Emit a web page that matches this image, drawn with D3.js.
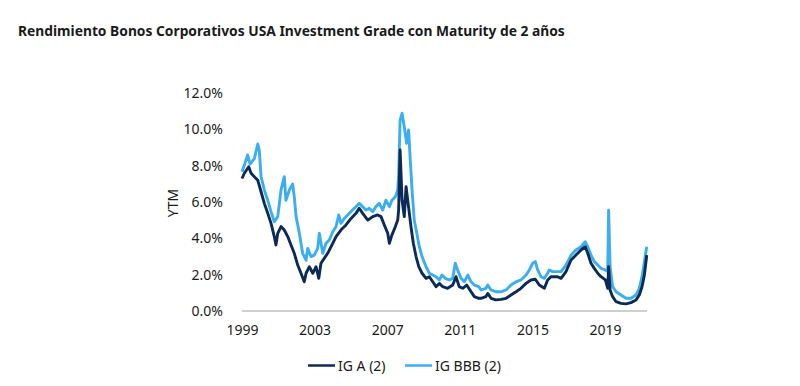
<!DOCTYPE html>
<html>
<head>
<meta charset="utf-8">
<script src="https://cdn.jsdelivr.net/npm/d3@7"></script>
<style>
  body { margin: 0; background: #fff; }
  text { font-family: "Noto Sans", "Open Sans", sans-serif; fill: #1a1a1a; }
</style>
</head>
<body>
<div id="chart"></div>
<script>
// Values (decimal year, yield in %).
const yearsA = [
  1999.00, 1999.13, 1999.37, 1999.50, 1999.68, 1999.87, 2000.05, 2000.23, 2000.42, 2000.60,
  2000.78, 2000.87, 2000.97, 2001.15, 2001.33, 2001.52, 2001.70, 2001.88, 2002.07, 2002.25,
  2002.43, 2002.53, 2002.71, 2002.90, 2003.08, 2003.23, 2003.35, 2003.53, 2003.72, 2004.00,
  2004.18, 2004.45, 2004.73, 2005.01, 2005.28, 2005.46, 2005.65, 2005.93, 2006.20, 2006.48,
  2006.66, 2006.84, 2007.03, 2007.12, 2007.26, 2007.45, 2007.58, 2007.63, 2007.71, 2007.82,
  2007.94, 2008.04, 2008.13, 2008.22, 2008.31, 2008.44, 2008.59, 2008.74, 2008.92, 2009.14,
  2009.32, 2009.51, 2009.69, 2009.87, 2010.06, 2010.33, 2010.61, 2010.79, 2010.97, 2011.16,
  2011.38, 2011.56, 2011.80, 2012.04, 2012.17, 2012.44, 2012.54, 2012.72, 2012.99, 2013.27,
  2013.55, 2013.82, 2014.10, 2014.37, 2014.65, 2014.92, 2015.16, 2015.38, 2015.66, 2015.84,
  2016.02, 2016.39, 2016.58, 2016.85, 2017.13, 2017.40, 2017.68, 2017.91, 2018.05, 2018.23,
  2018.41, 2018.60, 2018.78, 2019.02, 2019.15, 2019.20, 2019.28, 2019.42, 2019.61, 2019.88,
  2020.16, 2020.43, 2020.71, 2020.89, 2021.04, 2021.17, 2021.30
];
const igA = [
  7.30, 7.59, 7.95, 7.59, 7.40, 7.20, 6.57, 5.93, 5.38, 4.83,
  4.10, 3.64, 4.28, 4.65, 4.46, 4.10, 3.64, 3.18, 2.53, 2.08,
  1.61, 2.08, 2.44, 2.08, 2.44, 1.80, 2.63, 2.90, 3.18, 3.73,
  4.10, 4.46, 4.74, 5.10, 5.38, 5.66, 5.38, 5.01, 5.20, 5.29,
  5.20, 4.74, 4.28, 3.73, 4.19, 4.65, 5.01, 5.56, 8.87, 6.10,
  5.20, 6.85, 6.10, 5.38, 4.64, 3.73, 3.00, 2.44, 2.08, 1.80,
  1.89, 1.61, 1.34, 1.52, 1.34, 1.25, 1.43, 1.89, 1.34, 1.25,
  1.43, 1.16, 0.79, 0.70, 0.70, 0.79, 0.97, 0.70, 0.61, 0.64,
  0.70, 0.88, 1.06, 1.25, 1.52, 1.71, 1.75, 1.43, 1.25, 1.71,
  1.89, 1.89, 1.80, 2.17, 2.81, 3.08, 3.36, 3.54, 3.18, 2.63,
  2.35, 2.08, 1.89, 1.71, 1.25, 2.44, 1.16, 0.79, 0.51, 0.42,
  0.39, 0.46, 0.61, 0.88, 1.34, 1.98, 3.08
];

const yearsBBB = [
  1999.00, 1999.13, 1999.31, 1999.44, 1999.68, 1999.87, 1999.95, 2000.05, 2000.23, 2000.42,
  2000.60, 2000.78, 2000.97, 2001.15, 2001.33, 2001.42, 2001.61, 2001.79, 2001.88, 2001.98,
  2002.16, 2002.34, 2002.53, 2002.62, 2002.80, 2002.98, 2003.17, 2003.26, 2003.45, 2003.63,
  2003.81, 2004.00, 2004.18, 2004.33, 2004.45, 2004.64, 2004.91, 2005.19, 2005.46, 2005.65,
  2005.83, 2006.01, 2006.20, 2006.38, 2006.56, 2006.75, 2006.93, 2007.12, 2007.26, 2007.45,
  2007.58, 2007.63, 2007.71, 2007.82, 2007.94, 2008.07, 2008.18, 2008.26, 2008.37, 2008.49,
  2008.63, 2008.77, 2008.92, 2009.14, 2009.32, 2009.51, 2009.69, 2009.87, 2010.02, 2010.20,
  2010.42, 2010.61, 2010.75, 2010.88, 2011.07, 2011.25, 2011.44, 2011.62, 2011.80, 2012.04,
  2012.17, 2012.44, 2012.54, 2012.72, 2012.99, 2013.27, 2013.55, 2013.82, 2014.10, 2014.37,
  2014.65, 2014.83, 2015.02, 2015.16, 2015.29, 2015.47, 2015.66, 2015.84, 2015.93, 2016.12,
  2016.39, 2016.58, 2016.85, 2017.13, 2017.40, 2017.68, 2017.91, 2018.05, 2018.23, 2018.41,
  2018.60, 2018.78, 2019.02, 2019.15, 2019.20, 2019.28, 2019.42, 2019.61, 2019.88, 2020.16,
  2020.43, 2020.71, 2020.89, 2021.04, 2021.17, 2021.30
];
const igBBB = [
  7.67, 8.04, 8.60, 8.10, 8.40, 9.20, 8.87, 7.40, 6.67, 6.10,
  5.47, 4.92, 5.20, 6.67, 7.40, 6.10, 6.67, 7.00, 6.30, 5.20,
  4.28, 3.18, 2.80, 3.45, 3.00, 3.08, 3.45, 4.28, 3.18, 3.73,
  3.91, 4.37, 4.64, 5.29, 4.83, 5.10, 5.38, 5.66, 5.93, 5.75,
  5.56, 5.66, 5.47, 5.75, 5.93, 5.56, 6.10, 5.75, 6.10, 6.30,
  6.67, 7.50, 10.50, 10.90, 10.15, 9.24, 9.97, 8.50, 6.67, 5.01,
  4.28, 3.54, 3.00, 2.44, 2.08, 1.98, 1.89, 1.71, 1.98, 1.80,
  1.71, 1.80, 2.63, 2.26, 1.80, 1.61, 1.98, 1.61, 1.43, 1.34,
  1.16, 1.25, 1.43, 1.16, 1.06, 1.06, 1.16, 1.43, 1.61, 1.71,
  1.98, 2.26, 2.63, 2.72, 2.26, 1.89, 1.80, 2.08, 2.26, 2.17,
  2.17, 2.17, 2.53, 3.08, 3.36, 3.54, 3.82, 3.54, 3.08, 2.72,
  2.53, 2.35, 2.26, 2.17, 5.56, 2.44, 1.34, 1.06, 0.88, 0.70,
  0.70, 0.88, 1.25, 1.89, 2.72, 3.54
];

const yTicks = [0, 2, 4, 6, 8, 10, 12];
const xTicks = [1999, 2003, 2007, 2011, 2015, 2019];

const series = [
  { name: 'IG BBB (2)', years: yearsBBB, values: igBBB, color: '#3aaef0' },
  { name: 'IG A (2)', years: yearsA, values: igA, color: '#0c2a57' },
];

const width = 800;
const height = 386;
const plot = { left: 242, right: 647, top: 93.2, bottom: 311 };

const svg = d3.select('#chart')
  .append('svg')
  .attr('width', width)
  .attr('height', height);

// Title
svg.append('text')
  .attr('x', 18)
  .attr('y', 36)
  .attr('font-size', 13.8)
  .attr('font-weight', 'bold')
  .text('Rendimiento Bonos Corporativos USA Investment Grade con Maturity de 2 años');

const x = d3.scaleLinear()
  .domain([1999, 1999 + (plot.right - plot.left) / 18.15])
  .range([plot.left, plot.right]);

const y = d3.scaleLinear()
  .domain([0, 12])
  .range([plot.bottom, plot.top]);

// Y axis: labels only
const yAxis = svg.append('g')
  .attr('transform', `translate(${plot.left - 16},0)`)
  .call(d3.axisLeft(y).tickValues(yTicks).tickSize(0).tickFormat(d => d.toFixed(1) + '%'));
yAxis.select('.domain').remove();
yAxis.selectAll('text').attr('font-size', 14).attr('font-family', '"Noto Sans", sans-serif').attr('fill', '#1a1a1a');

// X axis: baseline + year labels
svg.append('line')
  .attr('x1', plot.left)
  .attr('x2', plot.right)
  .attr('y1', plot.bottom)
  .attr('y2', plot.bottom)
  .attr('stroke', '#bfbfbf')
  .attr('stroke-width', 1.5);

const xAxis = svg.append('g')
  .attr('transform', `translate(0,${plot.bottom + 11})`)
  .call(d3.axisBottom(x).tickValues(xTicks).tickSize(0).tickFormat(d3.format('d')));
xAxis.select('.domain').remove();
xAxis.selectAll('text').attr('font-size', 14).attr('font-family', '"Noto Sans", sans-serif').attr('fill', '#1a1a1a');

// Y axis title
svg.append('text')
  .attr('transform', `translate(178,203) rotate(-90)`)
  .attr('text-anchor', 'middle')
  .attr('font-size', 14)
  .text('YTM');

// Lines
const line = d3.line()
  .x(d => x(d[0]))
  .y(d => y(d[1]));

series.forEach(s => {
  svg.append('path')
    .datum(s.years.map((yr, i) => [yr, s.values[i]]))
    .attr('fill', 'none')
    .attr('stroke', s.color)
    .attr('stroke-width', 2.9)
    .attr('stroke-linejoin', 'round')
    .attr('d', line);
});

// Legend
const legendItems = [
  { name: 'IG A (2)', color: '#0c2a57', x: 308 },
  { name: 'IG BBB (2)', color: '#3aaef0', x: 405 },
];
const legend = svg.append('g');
legendItems.forEach(item => {
  legend.append('line')
    .attr('x1', item.x)
    .attr('x2', item.x + 27)
    .attr('y1', 365.5)
    .attr('y2', 365.5)
    .attr('stroke', item.color)
    .attr('stroke-width', 2.5);
  legend.append('text')
    .attr('x', item.x + 30)
    .attr('y', 370.5)
    .attr('font-size', 14)
    .text(item.name);
});
</script>
</body>
</html>
